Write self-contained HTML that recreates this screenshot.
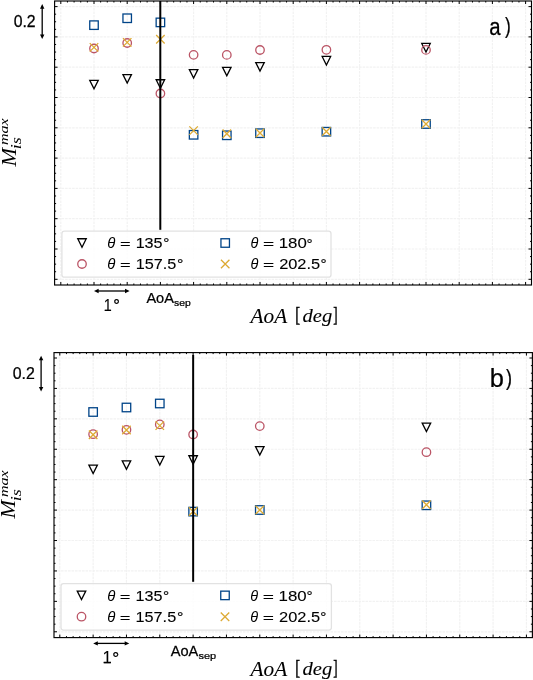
<!DOCTYPE html><html><head><meta charset="utf-8"><style>html,body{margin:0;padding:0;background:#fff;}svg{display:block;will-change:transform;}</style></head><body><svg width="533" height="680" viewBox="0 0 533 680">
<rect width="533" height="680" fill="#fff"/>
<path d="M60.80,1.00V285.00M94.00,1.00V285.00M127.20,1.00V285.00M160.40,1.00V285.00M193.60,1.00V285.00M226.80,1.00V285.00M260.00,1.00V285.00M293.20,1.00V285.00M326.40,1.00V285.00M359.60,1.00V285.00M392.80,1.00V285.00M426.00,1.00V285.00M459.20,1.00V285.00M492.40,1.00V285.00M525.60,1.00V285.00M54.60,6.60H531.50M54.60,36.90H531.50M54.60,67.20H531.50M54.60,97.50H531.50M54.60,127.80H531.50M54.60,158.10H531.50M54.60,188.40H531.50M54.60,218.70H531.50M54.60,249.00H531.50M54.60,279.30H531.50" stroke="#f2f2f2" stroke-width="1.2" stroke-dasharray="2.6,0.9" fill="none"/>
<path d="M89.75,80.35L98.25,80.35L94.00,88.85Z" fill="none" stroke="#000000" stroke-width="1.3" stroke-linejoin="miter"/>
<path d="M122.95,74.65L131.45,74.65L127.20,83.15Z" fill="none" stroke="#000000" stroke-width="1.3" stroke-linejoin="miter"/>
<path d="M156.15,79.75L164.65,79.75L160.40,88.25Z" fill="none" stroke="#000000" stroke-width="1.3" stroke-linejoin="miter"/>
<path d="M189.35,69.55L197.85,69.55L193.60,78.05Z" fill="none" stroke="#000000" stroke-width="1.3" stroke-linejoin="miter"/>
<path d="M222.55,67.35L231.05,67.35L226.80,75.85Z" fill="none" stroke="#000000" stroke-width="1.3" stroke-linejoin="miter"/>
<path d="M255.75,62.55L264.25,62.55L260.00,71.05Z" fill="none" stroke="#000000" stroke-width="1.3" stroke-linejoin="miter"/>
<path d="M322.15,56.45L330.65,56.45L326.40,64.95Z" fill="none" stroke="#000000" stroke-width="1.3" stroke-linejoin="miter"/>
<path d="M421.75,43.45L430.25,43.45L426.00,51.95Z" fill="none" stroke="#000000" stroke-width="1.3" stroke-linejoin="miter"/>
<circle cx="94.00" cy="48.50" r="4.25" fill="none" stroke="#BB5566" stroke-width="1.3"/>
<circle cx="127.20" cy="43.00" r="4.25" fill="none" stroke="#BB5566" stroke-width="1.3"/>
<circle cx="160.40" cy="93.50" r="4.25" fill="none" stroke="#BB5566" stroke-width="1.3"/>
<circle cx="193.60" cy="54.85" r="4.25" fill="none" stroke="#BB5566" stroke-width="1.3"/>
<circle cx="226.80" cy="54.90" r="4.25" fill="none" stroke="#BB5566" stroke-width="1.3"/>
<circle cx="260.00" cy="50.00" r="4.25" fill="none" stroke="#BB5566" stroke-width="1.3"/>
<circle cx="326.40" cy="49.80" r="4.25" fill="none" stroke="#BB5566" stroke-width="1.3"/>
<circle cx="426.00" cy="49.90" r="4.25" fill="none" stroke="#BB5566" stroke-width="1.3"/>
<rect x="89.75" y="20.90" width="8.50" height="8.50" fill="none" stroke="#004488" stroke-width="1.3"/>
<rect x="122.95" y="14.00" width="8.50" height="8.50" fill="none" stroke="#004488" stroke-width="1.3"/>
<rect x="156.15" y="18.15" width="8.50" height="8.50" fill="none" stroke="#004488" stroke-width="1.3"/>
<rect x="189.35" y="130.55" width="8.50" height="8.50" fill="none" stroke="#004488" stroke-width="1.3"/>
<rect x="222.55" y="131.05" width="8.50" height="8.50" fill="none" stroke="#004488" stroke-width="1.3"/>
<rect x="255.75" y="128.95" width="8.50" height="8.50" fill="none" stroke="#004488" stroke-width="1.3"/>
<rect x="322.15" y="127.45" width="8.50" height="8.50" fill="none" stroke="#004488" stroke-width="1.3"/>
<rect x="421.75" y="119.75" width="8.50" height="8.50" fill="none" stroke="#004488" stroke-width="1.3"/>
<path d="M89.75,43.15L98.25,51.65M89.75,51.65L98.25,43.15" stroke="#DDAA33" stroke-width="1.3" fill="none"/>
<path d="M122.95,38.15L131.45,46.65M122.95,46.65L131.45,38.15" stroke="#DDAA33" stroke-width="1.3" fill="none"/>
<path d="M156.15,34.95L164.65,43.45M156.15,43.45L164.65,34.95" stroke="#DDAA33" stroke-width="1.3" fill="none"/>
<path d="M189.35,126.35L197.85,134.85M189.35,134.85L197.85,126.35" stroke="#DDAA33" stroke-width="1.3" fill="none"/>
<path d="M222.55,129.55L231.05,138.05M222.55,138.05L231.05,129.55" stroke="#DDAA33" stroke-width="1.3" fill="none"/>
<path d="M255.75,128.75L264.25,137.25M255.75,137.25L264.25,128.75" stroke="#DDAA33" stroke-width="1.3" fill="none"/>
<path d="M322.15,127.25L330.65,135.75M322.15,135.75L330.65,127.25" stroke="#DDAA33" stroke-width="1.3" fill="none"/>
<path d="M421.75,119.75L430.25,128.25M421.75,128.25L430.25,119.75" stroke="#DDAA33" stroke-width="1.3" fill="none"/>
<path d="M160.30,1.00V229.80" stroke="#000" stroke-width="2.0"/>
<rect x="61.90" y="231.20" width="269.10" height="46.00" rx="2.5" fill="#fff" fill-opacity="0.8" stroke="#e2e2e2" stroke-width="1.3"/>
<path d="M77.75,238.75L86.25,238.75L82.00,247.25Z" fill="none" stroke="#000000" stroke-width="1.3" stroke-linejoin="miter"/>
<circle cx="82.00" cy="264.00" r="4.25" fill="none" stroke="#BB5566" stroke-width="1.3"/>
<rect x="220.95" y="238.75" width="8.50" height="8.50" fill="none" stroke="#004488" stroke-width="1.3"/>
<path d="M220.95,259.75L229.45,268.25M220.95,268.25L229.45,259.75" stroke="#DDAA33" stroke-width="1.3" fill="none"/>
<text transform="translate(107.25,248.36) scale(1.0859,1)" font-family="&quot;Liberation Sans&quot;, sans-serif" font-style="italic" font-size="13.741" fill="#000">θ</text>
<text transform="translate(119.93,248.14) scale(1.3450,1)" font-family="&quot;Liberation Sans&quot;, sans-serif" font-size="13.643" fill="#000" stroke="#000" stroke-width="0.10">=</text>
<text transform="translate(135.64,247.90) scale(1.0999,1)" font-family="&quot;Liberation Sans&quot;, sans-serif" font-size="14.700" fill="#000" stroke="#000" stroke-width="0.10">135</text>
<text transform="translate(163.18,248.35) scale(1.0654,1)" font-family="&quot;Liberation Sans&quot;, sans-serif" font-size="14.414" fill="#000" stroke="#000" stroke-width="0.20">°</text>
<text transform="translate(107.25,269.45) scale(1.0250,1)" font-family="&quot;Liberation Sans&quot;, sans-serif" font-style="italic" font-size="14.558" fill="#000">θ</text>
<text transform="translate(119.93,269.14) scale(1.3450,1)" font-family="&quot;Liberation Sans&quot;, sans-serif" font-size="13.643" fill="#000" stroke="#000" stroke-width="0.10">=</text>
<text transform="translate(135.63,269.30) scale(1.0496,1)" font-family="&quot;Liberation Sans&quot;, sans-serif" font-size="15.484" fill="#000" stroke="#000" stroke-width="0.10">157.5</text>
<text transform="translate(177.04,269.45) scale(1.1150,1)" font-family="&quot;Liberation Sans&quot;, sans-serif" font-size="14.414" fill="#000" stroke="#000" stroke-width="0.20">°</text>
<text transform="translate(250.47,248.16) scale(1.0155,1)" font-family="&quot;Liberation Sans&quot;, sans-serif" font-style="italic" font-size="14.286" fill="#000">θ</text>
<text transform="translate(262.89,248.14) scale(1.4055,1)" font-family="&quot;Liberation Sans&quot;, sans-serif" font-size="13.643" fill="#000" stroke="#000" stroke-width="0.10">=</text>
<text transform="translate(278.69,248.10) scale(1.0936,1)" font-family="&quot;Liberation Sans&quot;, sans-serif" font-size="15.406" fill="#000" stroke="#000" stroke-width="0.10">180</text>
<text transform="translate(306.58,248.86) scale(1.0147,1)" font-family="&quot;Liberation Sans&quot;, sans-serif" font-size="15.135" fill="#000" stroke="#000" stroke-width="0.20">°</text>
<text transform="translate(250.47,269.36) scale(1.0060,1)" font-family="&quot;Liberation Sans&quot;, sans-serif" font-style="italic" font-size="14.422" fill="#000">θ</text>
<text transform="translate(262.89,269.14) scale(1.4055,1)" font-family="&quot;Liberation Sans&quot;, sans-serif" font-size="13.643" fill="#000" stroke="#000" stroke-width="0.10">=</text>
<text transform="translate(279.13,269.40) scale(1.0654,1)" font-family="&quot;Liberation Sans&quot;, sans-serif" font-size="15.406" fill="#000" stroke="#000" stroke-width="0.10">202.5</text>
<text transform="translate(320.38,269.45) scale(1.0654,1)" font-family="&quot;Liberation Sans&quot;, sans-serif" font-size="14.414" fill="#000" stroke="#000" stroke-width="0.20">°</text>
<path d="M60.80,285.00v-3.0M60.80,1.00v3.0M67.44,285.00v-1.5M67.44,1.00v1.5M74.08,285.00v-1.5M74.08,1.00v1.5M80.72,285.00v-1.5M80.72,1.00v1.5M87.36,285.00v-1.5M87.36,1.00v1.5M94.00,285.00v-3.0M94.00,1.00v3.0M100.64,285.00v-1.5M100.64,1.00v1.5M107.28,285.00v-1.5M107.28,1.00v1.5M113.92,285.00v-1.5M113.92,1.00v1.5M120.56,285.00v-1.5M120.56,1.00v1.5M127.20,285.00v-3.0M127.20,1.00v3.0M133.84,285.00v-1.5M133.84,1.00v1.5M140.48,285.00v-1.5M140.48,1.00v1.5M147.12,285.00v-1.5M147.12,1.00v1.5M153.76,285.00v-1.5M153.76,1.00v1.5M160.40,285.00v-3.0M160.40,1.00v3.0M167.04,285.00v-1.5M167.04,1.00v1.5M173.68,285.00v-1.5M173.68,1.00v1.5M180.32,285.00v-1.5M180.32,1.00v1.5M186.96,285.00v-1.5M186.96,1.00v1.5M193.60,285.00v-3.0M193.60,1.00v3.0M200.24,285.00v-1.5M200.24,1.00v1.5M206.88,285.00v-1.5M206.88,1.00v1.5M213.52,285.00v-1.5M213.52,1.00v1.5M220.16,285.00v-1.5M220.16,1.00v1.5M226.80,285.00v-3.0M226.80,1.00v3.0M233.44,285.00v-1.5M233.44,1.00v1.5M240.08,285.00v-1.5M240.08,1.00v1.5M246.72,285.00v-1.5M246.72,1.00v1.5M253.36,285.00v-1.5M253.36,1.00v1.5M260.00,285.00v-3.0M260.00,1.00v3.0M266.64,285.00v-1.5M266.64,1.00v1.5M273.28,285.00v-1.5M273.28,1.00v1.5M279.92,285.00v-1.5M279.92,1.00v1.5M286.56,285.00v-1.5M286.56,1.00v1.5M293.20,285.00v-3.0M293.20,1.00v3.0M299.84,285.00v-1.5M299.84,1.00v1.5M306.48,285.00v-1.5M306.48,1.00v1.5M313.12,285.00v-1.5M313.12,1.00v1.5M319.76,285.00v-1.5M319.76,1.00v1.5M326.40,285.00v-3.0M326.40,1.00v3.0M333.04,285.00v-1.5M333.04,1.00v1.5M339.68,285.00v-1.5M339.68,1.00v1.5M346.32,285.00v-1.5M346.32,1.00v1.5M352.96,285.00v-1.5M352.96,1.00v1.5M359.60,285.00v-3.0M359.60,1.00v3.0M366.24,285.00v-1.5M366.24,1.00v1.5M372.88,285.00v-1.5M372.88,1.00v1.5M379.52,285.00v-1.5M379.52,1.00v1.5M386.16,285.00v-1.5M386.16,1.00v1.5M392.80,285.00v-3.0M392.80,1.00v3.0M399.44,285.00v-1.5M399.44,1.00v1.5M406.08,285.00v-1.5M406.08,1.00v1.5M412.72,285.00v-1.5M412.72,1.00v1.5M419.36,285.00v-1.5M419.36,1.00v1.5M426.00,285.00v-3.0M426.00,1.00v3.0M432.64,285.00v-1.5M432.64,1.00v1.5M439.28,285.00v-1.5M439.28,1.00v1.5M445.92,285.00v-1.5M445.92,1.00v1.5M452.56,285.00v-1.5M452.56,1.00v1.5M459.20,285.00v-3.0M459.20,1.00v3.0M465.84,285.00v-1.5M465.84,1.00v1.5M472.48,285.00v-1.5M472.48,1.00v1.5M479.12,285.00v-1.5M479.12,1.00v1.5M485.76,285.00v-1.5M485.76,1.00v1.5M492.40,285.00v-3.0M492.40,1.00v3.0M499.04,285.00v-1.5M499.04,1.00v1.5M505.68,285.00v-1.5M505.68,1.00v1.5M512.32,285.00v-1.5M512.32,1.00v1.5M518.96,285.00v-1.5M518.96,1.00v1.5M525.60,285.00v-3.0M525.60,1.00v3.0M54.60,6.60h3.0M531.50,6.60h-3.0M54.60,14.18h1.5M531.50,14.18h-1.5M54.60,21.75h1.5M531.50,21.75h-1.5M54.60,29.33h1.5M531.50,29.33h-1.5M54.60,36.90h3.0M531.50,36.90h-3.0M54.60,44.48h1.5M531.50,44.48h-1.5M54.60,52.05h1.5M531.50,52.05h-1.5M54.60,59.62h1.5M531.50,59.62h-1.5M54.60,67.20h3.0M531.50,67.20h-3.0M54.60,74.78h1.5M531.50,74.78h-1.5M54.60,82.35h1.5M531.50,82.35h-1.5M54.60,89.93h1.5M531.50,89.93h-1.5M54.60,97.50h3.0M531.50,97.50h-3.0M54.60,105.08h1.5M531.50,105.08h-1.5M54.60,112.65h1.5M531.50,112.65h-1.5M54.60,120.22h1.5M531.50,120.22h-1.5M54.60,127.80h3.0M531.50,127.80h-3.0M54.60,135.38h1.5M531.50,135.38h-1.5M54.60,142.95h1.5M531.50,142.95h-1.5M54.60,150.53h1.5M531.50,150.53h-1.5M54.60,158.10h3.0M531.50,158.10h-3.0M54.60,165.67h1.5M531.50,165.67h-1.5M54.60,173.25h1.5M531.50,173.25h-1.5M54.60,180.82h1.5M531.50,180.82h-1.5M54.60,188.40h3.0M531.50,188.40h-3.0M54.60,195.97h1.5M531.50,195.97h-1.5M54.60,203.55h1.5M531.50,203.55h-1.5M54.60,211.12h1.5M531.50,211.12h-1.5M54.60,218.70h3.0M531.50,218.70h-3.0M54.60,226.27h1.5M531.50,226.27h-1.5M54.60,233.85h1.5M531.50,233.85h-1.5M54.60,241.42h1.5M531.50,241.42h-1.5M54.60,249.00h3.0M531.50,249.00h-3.0M54.60,256.57h1.5M531.50,256.57h-1.5M54.60,264.15h1.5M531.50,264.15h-1.5M54.60,271.73h1.5M531.50,271.73h-1.5M54.60,279.30h3.0M531.50,279.30h-3.0" stroke="#000" stroke-width="1" fill="none"/>
<rect x="54.60" y="1.00" width="476.90" height="284.00" fill="none" stroke="#000" stroke-width="1.15"/>
<path d="M59.80,352.60V637.60M93.13,352.60V637.60M126.46,352.60V637.60M159.79,352.60V637.60M193.12,352.60V637.60M226.45,352.60V637.60M259.78,352.60V637.60M293.11,352.60V637.60M326.44,352.60V637.60M359.77,352.60V637.60M393.10,352.60V637.60M426.43,352.60V637.60M459.76,352.60V637.60M493.09,352.60V637.60M526.42,352.60V637.60M54.00,358.00H532.40M54.00,388.42H532.40M54.00,418.84H532.40M54.00,449.26H532.40M54.00,479.68H532.40M54.00,510.10H532.40M54.00,540.52H532.40M54.00,570.94H532.40M54.00,601.36H532.40M54.00,631.78H532.40" stroke="#f2f2f2" stroke-width="1.2" stroke-dasharray="2.6,0.9" fill="none"/>
<path d="M88.88,465.05L97.38,465.05L93.13,473.55Z" fill="none" stroke="#000000" stroke-width="1.3" stroke-linejoin="miter"/>
<path d="M122.21,460.85L130.71,460.85L126.46,469.35Z" fill="none" stroke="#000000" stroke-width="1.3" stroke-linejoin="miter"/>
<path d="M155.54,456.45L164.04,456.45L159.79,464.95Z" fill="none" stroke="#000000" stroke-width="1.3" stroke-linejoin="miter"/>
<path d="M188.87,455.75L197.37,455.75L193.12,464.25Z" fill="none" stroke="#000000" stroke-width="1.3" stroke-linejoin="miter"/>
<path d="M255.53,446.55L264.03,446.55L259.78,455.05Z" fill="none" stroke="#000000" stroke-width="1.3" stroke-linejoin="miter"/>
<path d="M422.18,423.05L430.68,423.05L426.43,431.55Z" fill="none" stroke="#000000" stroke-width="1.3" stroke-linejoin="miter"/>
<circle cx="93.13" cy="434.20" r="4.25" fill="none" stroke="#BB5566" stroke-width="1.3"/>
<circle cx="126.46" cy="429.80" r="4.25" fill="none" stroke="#BB5566" stroke-width="1.3"/>
<circle cx="159.79" cy="424.40" r="4.25" fill="none" stroke="#BB5566" stroke-width="1.3"/>
<circle cx="193.12" cy="434.50" r="4.25" fill="none" stroke="#BB5566" stroke-width="1.3"/>
<circle cx="259.78" cy="426.10" r="4.25" fill="none" stroke="#BB5566" stroke-width="1.3"/>
<circle cx="426.43" cy="452.20" r="4.25" fill="none" stroke="#BB5566" stroke-width="1.3"/>
<rect x="88.88" y="407.75" width="8.50" height="8.50" fill="none" stroke="#004488" stroke-width="1.3"/>
<rect x="122.21" y="403.25" width="8.50" height="8.50" fill="none" stroke="#004488" stroke-width="1.3"/>
<rect x="155.54" y="399.25" width="8.50" height="8.50" fill="none" stroke="#004488" stroke-width="1.3"/>
<rect x="188.87" y="507.35" width="8.50" height="8.50" fill="none" stroke="#004488" stroke-width="1.3"/>
<rect x="255.53" y="505.75" width="8.50" height="8.50" fill="none" stroke="#004488" stroke-width="1.3"/>
<rect x="422.18" y="501.05" width="8.50" height="8.50" fill="none" stroke="#004488" stroke-width="1.3"/>
<path d="M88.88,430.45L97.38,438.95M88.88,438.95L97.38,430.45" stroke="#DDAA33" stroke-width="1.3" fill="none"/>
<path d="M122.21,425.75L130.71,434.25M122.21,434.25L130.71,425.75" stroke="#DDAA33" stroke-width="1.3" fill="none"/>
<path d="M155.54,421.35L164.04,429.85M155.54,429.85L164.04,421.35" stroke="#DDAA33" stroke-width="1.3" fill="none"/>
<path d="M188.87,507.25L197.37,515.75M188.87,515.75L197.37,507.25" stroke="#DDAA33" stroke-width="1.3" fill="none"/>
<path d="M255.53,505.75L264.03,514.25M255.53,514.25L264.03,505.75" stroke="#DDAA33" stroke-width="1.3" fill="none"/>
<path d="M422.18,500.45L430.68,508.95M422.18,508.95L430.68,500.45" stroke="#DDAA33" stroke-width="1.3" fill="none"/>
<path d="M193.15,355.00V581.80" stroke="#000" stroke-width="2.0"/>
<rect x="61.00" y="583.60" width="270.40" height="46.50" rx="2.5" fill="#fff" fill-opacity="0.8" stroke="#e2e2e2" stroke-width="1.3"/>
<path d="M77.25,591.15L85.75,591.15L81.50,599.65Z" fill="none" stroke="#000000" stroke-width="1.3" stroke-linejoin="miter"/>
<circle cx="81.50" cy="616.70" r="4.25" fill="none" stroke="#BB5566" stroke-width="1.3"/>
<rect x="220.75" y="591.15" width="8.50" height="8.50" fill="none" stroke="#004488" stroke-width="1.3"/>
<path d="M220.75,612.45L229.25,620.95M220.75,620.95L229.25,612.45" stroke="#DDAA33" stroke-width="1.3" fill="none"/>
<text transform="translate(107.15,600.96) scale(1.0859,1)" font-family="&quot;Liberation Sans&quot;, sans-serif" font-style="italic" font-size="13.741" fill="#000">θ</text>
<text transform="translate(119.83,600.74) scale(1.3450,1)" font-family="&quot;Liberation Sans&quot;, sans-serif" font-size="13.643" fill="#000" stroke="#000" stroke-width="0.10">=</text>
<text transform="translate(135.54,600.50) scale(1.0999,1)" font-family="&quot;Liberation Sans&quot;, sans-serif" font-size="14.700" fill="#000" stroke="#000" stroke-width="0.10">135</text>
<text transform="translate(163.08,600.95) scale(1.0654,1)" font-family="&quot;Liberation Sans&quot;, sans-serif" font-size="14.414" fill="#000" stroke="#000" stroke-width="0.20">°</text>
<text transform="translate(107.15,622.05) scale(1.0250,1)" font-family="&quot;Liberation Sans&quot;, sans-serif" font-style="italic" font-size="14.558" fill="#000">θ</text>
<text transform="translate(119.83,621.74) scale(1.3450,1)" font-family="&quot;Liberation Sans&quot;, sans-serif" font-size="13.643" fill="#000" stroke="#000" stroke-width="0.10">=</text>
<text transform="translate(135.53,621.90) scale(1.0496,1)" font-family="&quot;Liberation Sans&quot;, sans-serif" font-size="15.484" fill="#000" stroke="#000" stroke-width="0.10">157.5</text>
<text transform="translate(176.94,622.05) scale(1.1150,1)" font-family="&quot;Liberation Sans&quot;, sans-serif" font-size="14.414" fill="#000" stroke="#000" stroke-width="0.20">°</text>
<text transform="translate(250.37,600.76) scale(1.0155,1)" font-family="&quot;Liberation Sans&quot;, sans-serif" font-style="italic" font-size="14.286" fill="#000">θ</text>
<text transform="translate(262.79,600.74) scale(1.4055,1)" font-family="&quot;Liberation Sans&quot;, sans-serif" font-size="13.643" fill="#000" stroke="#000" stroke-width="0.10">=</text>
<text transform="translate(278.59,600.70) scale(1.0936,1)" font-family="&quot;Liberation Sans&quot;, sans-serif" font-size="15.406" fill="#000" stroke="#000" stroke-width="0.10">180</text>
<text transform="translate(306.48,601.46) scale(1.0147,1)" font-family="&quot;Liberation Sans&quot;, sans-serif" font-size="15.135" fill="#000" stroke="#000" stroke-width="0.20">°</text>
<text transform="translate(250.37,621.96) scale(1.0060,1)" font-family="&quot;Liberation Sans&quot;, sans-serif" font-style="italic" font-size="14.422" fill="#000">θ</text>
<text transform="translate(262.79,621.74) scale(1.4055,1)" font-family="&quot;Liberation Sans&quot;, sans-serif" font-size="13.643" fill="#000" stroke="#000" stroke-width="0.10">=</text>
<text transform="translate(279.03,622.00) scale(1.0654,1)" font-family="&quot;Liberation Sans&quot;, sans-serif" font-size="15.406" fill="#000" stroke="#000" stroke-width="0.10">202.5</text>
<text transform="translate(320.28,622.05) scale(1.0654,1)" font-family="&quot;Liberation Sans&quot;, sans-serif" font-size="14.414" fill="#000" stroke="#000" stroke-width="0.20">°</text>
<path d="M59.80,637.60v-3.0M59.80,352.60v3.0M66.47,637.60v-1.5M66.47,352.60v1.5M73.13,637.60v-1.5M73.13,352.60v1.5M79.80,637.60v-1.5M79.80,352.60v1.5M86.46,637.60v-1.5M86.46,352.60v1.5M93.13,637.60v-3.0M93.13,352.60v3.0M99.80,637.60v-1.5M99.80,352.60v1.5M106.46,637.60v-1.5M106.46,352.60v1.5M113.13,637.60v-1.5M113.13,352.60v1.5M119.79,637.60v-1.5M119.79,352.60v1.5M126.46,637.60v-3.0M126.46,352.60v3.0M133.13,637.60v-1.5M133.13,352.60v1.5M139.79,637.60v-1.5M139.79,352.60v1.5M146.46,637.60v-1.5M146.46,352.60v1.5M153.12,637.60v-1.5M153.12,352.60v1.5M159.79,637.60v-3.0M159.79,352.60v3.0M166.46,637.60v-1.5M166.46,352.60v1.5M173.12,637.60v-1.5M173.12,352.60v1.5M179.79,637.60v-1.5M179.79,352.60v1.5M186.45,637.60v-1.5M186.45,352.60v1.5M193.12,637.60v-3.0M193.12,352.60v3.0M199.79,637.60v-1.5M199.79,352.60v1.5M206.45,637.60v-1.5M206.45,352.60v1.5M213.12,637.60v-1.5M213.12,352.60v1.5M219.78,637.60v-1.5M219.78,352.60v1.5M226.45,637.60v-3.0M226.45,352.60v3.0M233.12,637.60v-1.5M233.12,352.60v1.5M239.78,637.60v-1.5M239.78,352.60v1.5M246.45,637.60v-1.5M246.45,352.60v1.5M253.11,637.60v-1.5M253.11,352.60v1.5M259.78,637.60v-3.0M259.78,352.60v3.0M266.45,637.60v-1.5M266.45,352.60v1.5M273.11,637.60v-1.5M273.11,352.60v1.5M279.78,637.60v-1.5M279.78,352.60v1.5M286.44,637.60v-1.5M286.44,352.60v1.5M293.11,637.60v-3.0M293.11,352.60v3.0M299.78,637.60v-1.5M299.78,352.60v1.5M306.44,637.60v-1.5M306.44,352.60v1.5M313.11,637.60v-1.5M313.11,352.60v1.5M319.77,637.60v-1.5M319.77,352.60v1.5M326.44,637.60v-3.0M326.44,352.60v3.0M333.11,637.60v-1.5M333.11,352.60v1.5M339.77,637.60v-1.5M339.77,352.60v1.5M346.44,637.60v-1.5M346.44,352.60v1.5M353.10,637.60v-1.5M353.10,352.60v1.5M359.77,637.60v-3.0M359.77,352.60v3.0M366.44,637.60v-1.5M366.44,352.60v1.5M373.10,637.60v-1.5M373.10,352.60v1.5M379.77,637.60v-1.5M379.77,352.60v1.5M386.43,637.60v-1.5M386.43,352.60v1.5M393.10,637.60v-3.0M393.10,352.60v3.0M399.77,637.60v-1.5M399.77,352.60v1.5M406.43,637.60v-1.5M406.43,352.60v1.5M413.10,637.60v-1.5M413.10,352.60v1.5M419.76,637.60v-1.5M419.76,352.60v1.5M426.43,637.60v-3.0M426.43,352.60v3.0M433.10,637.60v-1.5M433.10,352.60v1.5M439.76,637.60v-1.5M439.76,352.60v1.5M446.43,637.60v-1.5M446.43,352.60v1.5M453.09,637.60v-1.5M453.09,352.60v1.5M459.76,637.60v-3.0M459.76,352.60v3.0M466.43,637.60v-1.5M466.43,352.60v1.5M473.09,637.60v-1.5M473.09,352.60v1.5M479.76,637.60v-1.5M479.76,352.60v1.5M486.42,637.60v-1.5M486.42,352.60v1.5M493.09,637.60v-3.0M493.09,352.60v3.0M499.76,637.60v-1.5M499.76,352.60v1.5M506.42,637.60v-1.5M506.42,352.60v1.5M513.09,637.60v-1.5M513.09,352.60v1.5M519.75,637.60v-1.5M519.75,352.60v1.5M526.42,637.60v-3.0M526.42,352.60v3.0M54.00,358.00h3.0M532.40,358.00h-3.0M54.00,365.61h1.5M532.40,365.61h-1.5M54.00,373.21h1.5M532.40,373.21h-1.5M54.00,380.81h1.5M532.40,380.81h-1.5M54.00,388.42h3.0M532.40,388.42h-3.0M54.00,396.03h1.5M532.40,396.03h-1.5M54.00,403.63h1.5M532.40,403.63h-1.5M54.00,411.24h1.5M532.40,411.24h-1.5M54.00,418.84h3.0M532.40,418.84h-3.0M54.00,426.45h1.5M532.40,426.45h-1.5M54.00,434.05h1.5M532.40,434.05h-1.5M54.00,441.66h1.5M532.40,441.66h-1.5M54.00,449.26h3.0M532.40,449.26h-3.0M54.00,456.87h1.5M532.40,456.87h-1.5M54.00,464.47h1.5M532.40,464.47h-1.5M54.00,472.07h1.5M532.40,472.07h-1.5M54.00,479.68h3.0M532.40,479.68h-3.0M54.00,487.29h1.5M532.40,487.29h-1.5M54.00,494.89h1.5M532.40,494.89h-1.5M54.00,502.50h1.5M532.40,502.50h-1.5M54.00,510.10h3.0M532.40,510.10h-3.0M54.00,517.71h1.5M532.40,517.71h-1.5M54.00,525.31h1.5M532.40,525.31h-1.5M54.00,532.92h1.5M532.40,532.92h-1.5M54.00,540.52h3.0M532.40,540.52h-3.0M54.00,548.12h1.5M532.40,548.12h-1.5M54.00,555.73h1.5M532.40,555.73h-1.5M54.00,563.34h1.5M532.40,563.34h-1.5M54.00,570.94h3.0M532.40,570.94h-3.0M54.00,578.55h1.5M532.40,578.55h-1.5M54.00,586.15h1.5M532.40,586.15h-1.5M54.00,593.76h1.5M532.40,593.76h-1.5M54.00,601.36h3.0M532.40,601.36h-3.0M54.00,608.97h1.5M532.40,608.97h-1.5M54.00,616.57h1.5M532.40,616.57h-1.5M54.00,624.18h1.5M532.40,624.18h-1.5M54.00,631.78h3.0M532.40,631.78h-3.0" stroke="#000" stroke-width="1" fill="none"/>
<rect x="54.00" y="352.60" width="478.40" height="285.00" fill="none" stroke="#000" stroke-width="1.15"/>
<text transform="translate(489.36,35.23) scale(0.8362,1)" font-family="&quot;Liberation Sans&quot;, sans-serif" font-size="24.384" fill="#000" stroke="#000" stroke-width="0.25">a</text>
<text transform="translate(505.00,33.18) scale(0.7827,1)" font-family="&quot;Liberation Sans&quot;, sans-serif" font-size="22.145" fill="#000" stroke="#000" stroke-width="0.25">)</text>
<text transform="translate(489.67,387.23) scale(1.0192,1)" font-family="&quot;Liberation Sans&quot;, sans-serif" font-size="24.966" fill="#000" stroke="#000" stroke-width="0.25">b</text>
<text transform="translate(505.99,385.18) scale(0.8171,1)" font-family="&quot;Liberation Sans&quot;, sans-serif" font-size="22.145" fill="#000" stroke="#000" stroke-width="0.25">)</text>
<text transform="translate(13.69,26.62) scale(1.0121,1)" font-family="&quot;Liberation Sans&quot;, sans-serif" font-size="15.618" fill="#000" stroke="#000" stroke-width="0.25">0.2</text>
<path d="M42.20,7.70V35.50" stroke="#000" stroke-width="1.3"/><path d="M42.20,4.10L40.00,8.70L44.40,8.70Z" fill="#000"/><path d="M42.20,39.10L40.00,34.50L44.40,34.50Z" fill="#000"/>
<text transform="translate(12.79,378.62) scale(1.0170,1)" font-family="&quot;Liberation Sans&quot;, sans-serif" font-size="15.618" fill="#000" stroke="#000" stroke-width="0.25">0.2</text>
<path d="M41.10,359.30V388.00" stroke="#000" stroke-width="1.3"/><path d="M41.10,355.70L38.90,360.30L43.30,360.30Z" fill="#000"/><path d="M41.10,391.60L38.90,387.00L43.30,387.00Z" fill="#000"/>
<path d="M97.60,291.00H126.00" stroke="#000" stroke-width="1.3"/><path d="M94.00,291.00L98.60,288.80L98.60,293.20Z" fill="#000"/><path d="M129.60,291.00L125.00,288.80L125.00,293.20Z" fill="#000"/>
<text transform="translate(103.67,310.75) scale(0.8800,1)" font-family="&quot;Liberation Sans&quot;, sans-serif" font-size="16.291" fill="#000" stroke="#000" stroke-width="0.10">1</text>
<rect x="104.8" y="309.8" width="6.2" height="1.0" fill="#000"/>
<text transform="translate(113.13,311.46) scale(1.0594,1)" font-family="&quot;Liberation Sans&quot;, sans-serif" font-size="15.676" fill="#000" stroke="#000" stroke-width="0.25">°</text>
<path d="M96.80,643.40H125.70" stroke="#000" stroke-width="1.3"/><path d="M93.20,643.40L97.80,641.20L97.80,645.60Z" fill="#000"/><path d="M129.30,643.40L124.70,641.20L124.70,645.60Z" fill="#000"/>
<text transform="translate(102.40,663.35) scale(1.0405,1)" font-family="&quot;Liberation Sans&quot;, sans-serif" font-size="16.000" fill="#000" stroke="#000" stroke-width="0.10">1</text>
<rect x="103.7" y="662.4" width="7.1" height="1.0" fill="#000"/>
<text transform="translate(112.19,664.01) scale(1.0802,1)" font-family="&quot;Liberation Sans&quot;, sans-serif" font-size="16.036" fill="#000" stroke="#000" stroke-width="0.25">°</text>
<text transform="translate(146.39,303.03) scale(0.9720,1)" font-family="&quot;Liberation Sans&quot;, sans-serif" font-size="14.982" fill="#000" stroke="#000" stroke-width="0.25">AoA</text>
<text transform="translate(174.04,306.06) scale(1.0626,1)" font-family="&quot;Liberation Sans&quot;, sans-serif" font-size="9.732" fill="#000" stroke="#000" stroke-width="0.25">sep</text>
<text transform="translate(170.69,655.73) scale(0.9946,1)" font-family="&quot;Liberation Sans&quot;, sans-serif" font-size="14.695" fill="#000" stroke="#000" stroke-width="0.25">AoA</text>
<text transform="translate(198.42,658.86) scale(1.1292,1)" font-family="&quot;Liberation Sans&quot;, sans-serif" font-size="9.732" fill="#000" stroke="#000" stroke-width="0.25">sep</text>
<text transform="translate(250.52,322.63) scale(0.9771,1)" font-family="&quot;Liberation Serif&quot;, serif" font-style="italic" font-size="21.791" fill="#000" stroke="#000" stroke-width="0.10">AoA</text>
<text transform="translate(295.27,321.17) scale(0.6981,1)" font-family="&quot;Liberation Serif&quot;, serif" font-size="20.602" fill="#000" stroke="#000" stroke-width="0.50">[</text>
<text transform="translate(302.53,321.81) scale(1.0550,1)" font-family="&quot;Liberation Serif&quot;, serif" font-style="italic" font-size="19.504" fill="#000" stroke="#000" stroke-width="0.10">deg</text>
<text transform="translate(333.30,321.17) scale(0.6256,1)" font-family="&quot;Liberation Serif&quot;, serif" font-size="20.602" fill="#000" stroke="#000" stroke-width="0.50">]</text>
<text transform="translate(250.52,675.63) scale(0.9771,1)" font-family="&quot;Liberation Serif&quot;, serif" font-style="italic" font-size="21.791" fill="#000" stroke="#000" stroke-width="0.10">AoA</text>
<text transform="translate(295.27,674.17) scale(0.6981,1)" font-family="&quot;Liberation Serif&quot;, serif" font-size="20.602" fill="#000" stroke="#000" stroke-width="0.50">[</text>
<text transform="translate(302.53,674.81) scale(1.0550,1)" font-family="&quot;Liberation Serif&quot;, serif" font-style="italic" font-size="19.504" fill="#000" stroke="#000" stroke-width="0.10">deg</text>
<text transform="translate(333.30,674.17) scale(0.6256,1)" font-family="&quot;Liberation Serif&quot;, serif" font-size="20.602" fill="#000" stroke="#000" stroke-width="0.50">]</text>
<text transform="rotate(-90) translate(-166.52,15.80) scale(1.0262,1)" font-family="&quot;Liberation Serif&quot;, serif" font-style="italic" font-size="21.679" fill="#000">M</text>
<text transform="rotate(-90) translate(-145.10,8.38) scale(1.3443,1)" font-family="&quot;Liberation Serif&quot;, serif" font-style="italic" font-size="11.875" fill="#000">max</text>
<text transform="rotate(-90) translate(-149.20,21.26) scale(1.3091,1)" font-family="&quot;Liberation Serif&quot;, serif" font-style="italic" font-size="13.829" fill="#000">is</text>
<text transform="rotate(-90) translate(-518.52,15.30) scale(1.0262,1)" font-family="&quot;Liberation Serif&quot;, serif" font-style="italic" font-size="21.679" fill="#000">M</text>
<text transform="rotate(-90) translate(-497.10,7.88) scale(1.3443,1)" font-family="&quot;Liberation Serif&quot;, serif" font-style="italic" font-size="11.875" fill="#000">max</text>
<text transform="rotate(-90) translate(-501.20,20.76) scale(1.3091,1)" font-family="&quot;Liberation Serif&quot;, serif" font-style="italic" font-size="13.829" fill="#000">is</text>
</svg></body></html>
